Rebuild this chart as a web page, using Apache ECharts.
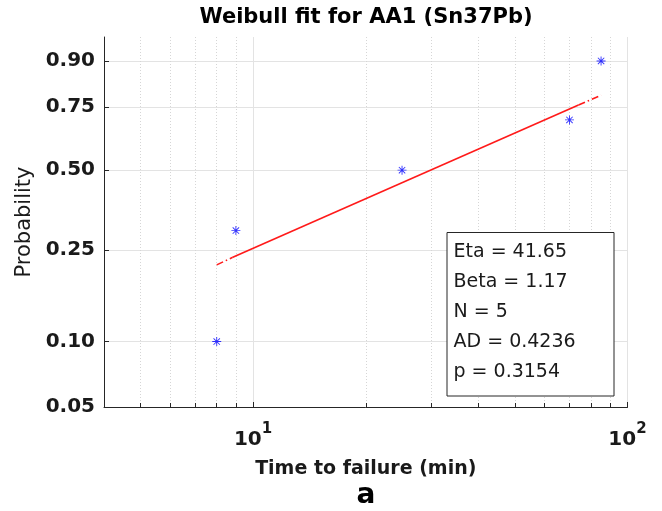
<!DOCTYPE html>
<html><head><meta charset="utf-8">
<script src="https://cdn.jsdelivr.net/npm/echarts@6/dist/echarts.min.js"></script>
<style>html,body{margin:0;padding:0;background:#fff}#c{width:662px;height:511px}</style>
</head><body><div id="c"></div>
<script>
// ---- data ----
const failureTimes = [8, 9, 25, 70, 85];
const plotProbs = [0.10, 0.30, 0.50, 0.70, 0.90];
// fitted reference line: solid centre part, dash-dot extensions
const fitSolidT = [8.8, 74];
const fitSolidP = [0.233, 0.758];
const fitLowT = [8, 8.8];
const fitLowP = [0.217, 0.233];
const fitHighT = [74, 85];
const fitHighP = [0.758, 0.794];
const yTickProbs = [0.05, 0.10, 0.25, 0.50, 0.75, 0.90];
const xMajorTicks = [10, 100];
const xMinorTicks = [5, 6, 7, 8, 9, 20, 30, 40, 50, 60, 70, 80, 90];
const xRange = [4, 100];
const yRange = [0.05, 0.95];
const statsLines = ['Eta = 41.65', 'Beta = 1.17', 'N = 5', 'AD = 0.4236', 'p = 0.3154'];
const titleText = 'Weibull fit for AA1 (Sn37Pb)';
const xName = 'Time to failure (min)';
const yName = 'Probability';
const panelLabel = 'a';

// ---- scale transforms (Weibull probability paper) ----
const wb = p => Math.log(-Math.log(1 - p));
const invWb = v => 1 - Math.exp(-Math.exp(v));
const lg = t => Math.log10(t);
const pairs = (ts, ps) => ts.map((t, i) => [lg(t), wb(ps[i])]);

const FONT = 'DejaVu Sans';
const TXT = '#1a1a1a';
const AX = '#262626';
const asterisk = 'path://M9,0L11,0L11,20L9,20Z M0,9L20,9L20,11L0,11Z M2.2,3.6L3.6,2.2L17.8,16.4L16.4,17.8Z M16.4,2.2L17.8,3.6L3.6,17.8L2.2,16.4Z';

const chart = echarts.init(document.getElementById('c'), null, {renderer: 'canvas'});
const dashDot = [7, 3, 1.5, 3];

const graphics = [
  {type: 'text', x: 366, y: 18, style: {text: titleText, font: 'bold 21px "' + FONT + '"', fill: '#000', textAlign: 'center', align: 'center', textVerticalAlign: 'middle', verticalAlign: 'middle'}},
  {type: 'text', x: 366, y: 496, style: {text: panelLabel, font: 'bold 28px "' + FONT + '"', fill: '#000', textAlign: 'center', align: 'center', textVerticalAlign: 'middle', verticalAlign: 'middle'}},
  {type: 'rect', shape: {x: 447, y: 232.5, width: 167, height: 163.5}, style: {fill: '#fff', stroke: AX, lineWidth: 1}, z: 100}
];
statsLines.forEach((s, i) => {
  graphics.push({type: 'text', x: 453.5, y: 252.5 + i * 30, z: 101,
    style: {text: s, font: '19px "' + FONT + '"', fill: TXT, textAlign: 'left', align: 'left', textVerticalAlign: 'middle', verticalAlign: 'middle'}});
});

chart.setOption({
  animation: false,
  backgroundColor: '#fff',
  grid: {left: 104, right: 34.5, top: 37, bottom: 104, containLabel: false},
  xAxis: [
    {
      type: 'value', min: lg(xRange[0]), max: lg(xRange[1]), position: 'bottom',
      axisLine: {show: true, onZero: false, lineStyle: {color: AX, width: 1}},
      axisTick: {show: true, inside: true, length: 5, customValues: xMajorTicks.map(lg), lineStyle: {color: AX}},
      axisLabel: {
        show: true, customValues: xMajorTicks.map(lg), margin: 15,
        formatter: v => '{b|10}{s|' + Math.round(v) + '}',
        rich: {
          b: {fontSize: 20, fontWeight: 'bold', fontFamily: FONT, color: TXT, lineHeight: 28, verticalAlign: 'bottom'},
          s: {fontSize: 15, fontWeight: 'bold', fontFamily: FONT, color: TXT, lineHeight: 8, verticalAlign: 'top'}
        }
      },
      splitLine: {show: true, lineStyle: {color: '#e3e3e3', width: 1}},
      name: xName, nameLocation: 'middle', nameGap: 53,
      nameTextStyle: {fontSize: 19, fontWeight: 'bold', fontFamily: FONT, color: TXT}
    },
    {
      type: 'value', min: lg(xRange[0]), max: lg(xRange[1]), position: 'bottom', gridIndex: 0,
      axisLine: {show: false, onZero: false},
      axisTick: {show: true, inside: true, length: 4, customValues: xMinorTicks.map(lg), lineStyle: {color: AX}},
      axisLabel: {show: false},
      splitLine: {show: true, lineStyle: {color: '#d6d6d6', width: 1, type: [1, 2]}}
    }
  ],
  yAxis: {
    type: 'value', min: wb(yRange[0]), max: wb(yRange[1]),
    axisLine: {show: true, onZero: false, lineStyle: {color: AX, width: 1}},
    axisTick: {show: true, inside: true, length: 5, customValues: yTickProbs.map(wb), lineStyle: {color: AX}},
    axisLabel: {
      show: true, customValues: yTickProbs.map(wb), margin: 9,
      formatter: v => invWb(v).toFixed(2),
      fontSize: 20, fontWeight: 'bold', fontFamily: FONT, color: TXT
    },
    splitLine: {show: true, lineStyle: {color: '#e3e3e3', width: 1}},
    name: yName, nameLocation: 'middle', nameGap: 67,
    nameTextStyle: {fontSize: 21, fontFamily: FONT, color: TXT}
  },
  series: [
    {type: 'line', data: pairs(fitSolidT, fitSolidP), symbol: 'none', lineStyle: {color: '#ff1a1a', width: 1.6}, z: 3},
    {type: 'line', data: pairs(fitLowT, fitLowP), symbol: 'none', lineStyle: {color: '#ff1a1a', width: 1.6, type: dashDot}, z: 3},
    {type: 'line', data: pairs(fitHighT, fitHighP), symbol: 'none', lineStyle: {color: '#ff1a1a', width: 1.6, type: dashDot}, z: 3},
    {type: 'scatter', data: pairs(failureTimes, plotProbs), symbol: asterisk, symbolSize: 9,
     itemStyle: {color: '#0000ff'}, z: 4}
  ],
  graphic: graphics
});
</script></body></html>
